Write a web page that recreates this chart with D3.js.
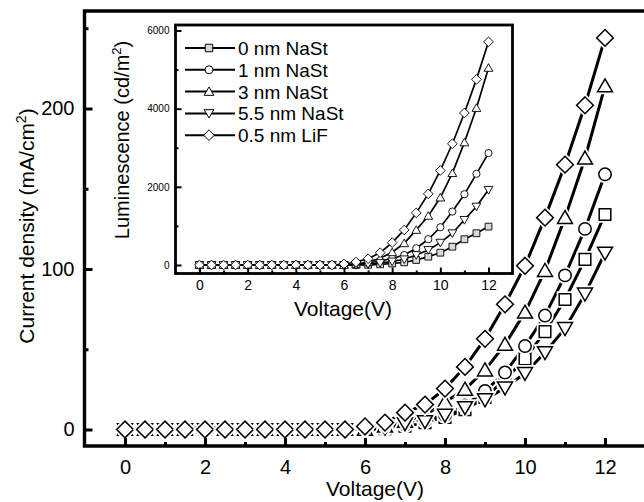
<!DOCTYPE html>
<html><head><meta charset="utf-8">
<script src="https://cdn.jsdelivr.net/npm/d3@7"></script>
<style>body{margin:0;background:#fff}svg{display:block}text{font-family:"Liberation Sans",Arial,sans-serif;fill:#000}</style>
</head><body><svg id="c" width="644" height="502"></svg>
<script>
// ---- data ----
const voltage = [0,0.5,1,1.5,2,2.5,3,3.5,4,4.5,5,5.5,6,6.5,7,7.5,8,8.5,9,9.5,10,10.5,11,11.5,12];
const seriesNames = ["0 nm NaSt","1 nm NaSt","3 nm NaSt","5.5 nm NaSt","0.5 nm LiF"];
const seriesSymbols = ["square","circle","triangle","triangleDown","diamond"];
// main: current density (mA/cm2)
const current0nm  = [0,0,0,0,0,0,0,0,0,0,0,0,0,0.5,2,4.3,7.5,12.4,20,31,44,61,81,106,134];
const current1nm  = [0,0,0,0,0,0,0,0,0,0,0,0,0,1,3,5.6,9,15,24,35.5,52,71,96,125,159];
const current3nm  = [0,0,0,0,1.5,0,0,0,0,0,0,0,0,2,5,9,17,25,37,53,73,99,132,169,214];
const current55nm = [0,0,0,0,0,0,0,0,0,0,0,0,0,1,3.7,5,9,13.7,18.6,26,35,48,63,84.5,110];
const currentLiF  = [0,0,0,0,0,0,0,0,0,0,0,0,1.9,4.3,10.5,15.5,25.5,39,56.5,78,102,132,165,202,244];
// inset: luminescence (cd/m2)
const lum0nm  = [0,0,0,0,0,0,0,0,0,0,0,0,0,0,5,18,38,69,128,213,315,469,659,813,982];
const lum1nm  = [0,0,0,0,0,0,0,0,0,0,0,0,0,13,51,103,167,256,428,659,966,1367,1812,2333,2863];
const lum3nm  = [0,0,0,0,0,0,0,0,0,0,0,0,0,26,77,171,325,556,897,1256,1726,2350,3136,4017,5043];
const lum55nm = [0,0,0,0,0,0,0,0,0,0,0,0,0,0,26,51,90,146,256,385,572,813,1154,1495,1923];
const lumLiF  = [0,0,0,0,0,0,0,0,0,0,0,0,26,77,162,315,572,897,1333,1820,2418,3102,3889,4750,5710];
const mainXTicks = [0,2,4,6,8,10,12];
const mainYTicks = [0,100,200];
const insetXTicks = [0,2,4,6,8,10,12];
const insetYTicks = [0,2000,4000,6000];

const currentSeries = [current0nm,current1nm,current3nm,current55nm,currentLiF];
const lumSeries = [lum0nm,lum1nm,lum3nm,lum55nm,lumLiF];

const svg = d3.select("#c");

function symbolPath(type, s){
  switch(type){
    case "square": return `M${-s},${-s}H${s}V${s}H${-s}Z`;
    case "circle": return `M${s},0A${s},${s} 0 1,1 ${-s},0A${s},${s} 0 1,1 ${s},0Z`;
    case "triangle": return `M0,${-s*1.05}L${s*1.1},${s*0.85}L${-s*1.1},${s*0.85}Z`;
    case "triangleDown": return `M0,${s*1.05}L${s*1.1},${-s*0.85}L${-s*1.1},${-s*0.85}Z`;
    case "diamond": return `M0,${-s*1.35}L${s*1.35},0L0,${s*1.35}L${-s*1.35},0Z`;
  }
}

// ---- main chart ----
const x = d3.scaleLinear().domain([0,12]).range([125,605]);
const y = d3.scaleLinear().domain([0,200]).range([429.5,108.5]);
const frame = {l:84.5, t:11, r:648, b:446};

const mainG = svg.append("g");
const line = d3.line().x((d,i)=>x(voltage[i])).y(d=>y(d));
currentSeries.forEach((s,k)=>{
  mainG.append("path").attr("d", line(s)).attr("fill","none").attr("stroke","#000").attr("stroke-width",3);
});
const mainSizes = {square:5.8,circle:6.2,triangle:6.8,triangleDown:6.8,diamond:6.2};
currentSeries.forEach((s,k)=>{
  const sym = seriesSymbols[k];
  const sel = mainG.selectAll(null).data(s).enter().append("g")
    .attr("transform",(d,i)=>`translate(${x(voltage[i])},${y(d)})`);
  sel.append("path").attr("d", symbolPath(sym, mainSizes[sym]))
    .attr("fill","#fff").attr("stroke","#fff").attr("stroke-width",5);
  sel.append("path").attr("d", symbolPath(sym, mainSizes[sym]))
    .attr("fill","#fff").attr("stroke","#000").attr("stroke-width",1.5);
});

// frame
svg.append("path").attr("d",`M${frame.r},${frame.t}H${frame.l}V${frame.b}H${frame.r}`)
  .attr("fill","none").attr("stroke","#000").attr("stroke-width",3.4);

// main axes ticks (inward)
const xAxis = d3.axisBottom(x).tickValues(mainXTicks).tickSize(-8).tickPadding(14).tickFormat(d3.format("d"));
const gx = svg.append("g").attr("transform",`translate(0,${frame.b})`).call(xAxis);
gx.select(".domain").remove();
gx.selectAll(".tick line").attr("stroke","#000").attr("stroke-width",3);
gx.selectAll(".tick text").style("font-size","20px").attr("font-family",null);
const xMinor = d3.axisBottom(x).tickValues([1,3,5,7,9,11]).tickSize(-4).tickFormat("");
const gxm = svg.append("g").attr("transform",`translate(0,${frame.b})`).call(xMinor);
gxm.select(".domain").remove();
gxm.selectAll(".tick line").attr("stroke","#000").attr("stroke-width",3);

const yAxis = d3.axisLeft(y).tickValues(mainYTicks).tickSize(-8).tickPadding(10).tickFormat(d3.format("d"));
const gy = svg.append("g").attr("transform",`translate(${frame.l},0)`).call(yAxis);
gy.select(".domain").remove();
gy.selectAll(".tick line").attr("stroke","#000").attr("stroke-width",3);
gy.selectAll(".tick text").style("font-size","20px").attr("font-family",null);
const yMinor = d3.axisLeft(y).tickValues([50,150,250]).tickSize(-4).tickFormat("");
const gym = svg.append("g").attr("transform",`translate(${frame.l},0)`).call(yMinor);
gym.select(".domain").remove();
gym.selectAll(".tick line").attr("stroke","#000").attr("stroke-width",3);

svg.append("text").attr("x",375).attr("y",496).attr("text-anchor","middle").style("font-size","21px").text("Voltage(V)");
const yt = svg.append("text").attr("transform","translate(34,226) rotate(-90)").attr("text-anchor","middle").style("font-size","21px");
yt.append("tspan").text("Current density (mA/cm");
yt.append("tspan").attr("dy",-8).style("font-size","14px").text("2");
yt.append("tspan").attr("dy",8).text(")");

// ---- inset ----
const ins = {l:175.5, t:25, r:512.5, b:273.5};
svg.append("rect").attr("x",ins.l).attr("y",ins.t).attr("width",ins.r-ins.l).attr("height",ins.b-ins.t).attr("fill","#fff");
const ix = d3.scaleLinear().domain([0,12]).range([199.5,488.5]);
const iy = d3.scaleLinear().domain([0,6000]).range([265,30.5]);
const ig = svg.append("g");
const iline = d3.line().x((d,i)=>ix(voltage[i])).y(d=>iy(d));
lumSeries.forEach(s=>{
  ig.append("path").attr("d", iline(s)).attr("fill","none").attr("stroke","#000").attr("stroke-width",1.7);
});
const insSizes = {square:3.4,circle:3.6,triangle:4,triangleDown:4,diamond:3.6};
lumSeries.forEach((s,k)=>{
  const sym = seriesSymbols[k];
  ig.selectAll(null).data(s).enter().append("path")
    .attr("transform",(d,i)=>`translate(${ix(voltage[i])},${iy(d)})`)
    .attr("d", symbolPath(sym, insSizes[sym]))
    .attr("fill", sym==="square" ? "#d8d8d8" : "#fff").attr("stroke","#000").attr("stroke-width",0.9);
});
svg.append("rect").attr("x",ins.l).attr("y",ins.t).attr("width",ins.r-ins.l).attr("height",ins.b-ins.t)
  .attr("fill","none").attr("stroke","#000").attr("stroke-width",2.8);

const ixAxis = d3.axisBottom(ix).tickValues(insetXTicks).tickSize(-6).tickPadding(7).tickFormat(d3.format("d"));
const gix = svg.append("g").attr("transform",`translate(0,${ins.b})`).call(ixAxis);
gix.select(".domain").remove();
gix.selectAll(".tick line").attr("stroke","#000").attr("stroke-width",2);
gix.selectAll(".tick text").style("font-size","14px").attr("font-family",null);
const ixMinor = d3.axisBottom(ix).tickValues([1,3,5,7,9,11]).tickSize(-3).tickFormat("");
const gixm = svg.append("g").attr("transform",`translate(0,${ins.b})`).call(ixMinor);
gixm.select(".domain").remove();
gixm.selectAll(".tick line").attr("stroke","#000").attr("stroke-width",2);

const iyAxis = d3.axisLeft(iy).tickValues(insetYTicks).tickSize(-6).tickPadding(6).tickFormat(d3.format("d"));
const giy = svg.append("g").attr("transform",`translate(${ins.l},0)`).call(iyAxis);
giy.select(".domain").remove();
giy.selectAll(".tick line").attr("stroke","#000").attr("stroke-width",2);
giy.selectAll(".tick text").style("font-size","10px").attr("font-family",null);
const iyMinor = d3.axisLeft(iy).tickValues([1000,3000,5000]).tickSize(-3).tickFormat("");
const giym = svg.append("g").attr("transform",`translate(${ins.l},0)`).call(iyMinor);
giym.select(".domain").remove();
giym.selectAll(".tick line").attr("stroke","#000").attr("stroke-width",2);

svg.append("text").attr("x",343).attr("y",316).attr("text-anchor","middle").style("font-size","21px").text("Voltage(V)");
const iyt = svg.append("text").attr("transform","translate(129,140) rotate(-90)").attr("text-anchor","middle").style("font-size","20px");
iyt.append("tspan").text("Luminescence (cd/m");
iyt.append("tspan").attr("dy",-8).style("font-size","13px").text("2");
iyt.append("tspan").attr("dy",8).text(")");

// legend
const lg = svg.append("g");
seriesNames.forEach((name,k)=>{
  const ly = 48 + k*21.8;
  lg.append("line").attr("x1",185).attr("x2",235).attr("y1",ly).attr("y2",ly).attr("stroke","#000").attr("stroke-width",2);
  const sym = seriesSymbols[k];
  lg.append("path").attr("transform",`translate(209,${ly})`).attr("d",symbolPath(sym, insSizes[sym]*1.1))
    .attr("fill", sym==="square" ? "#d8d8d8" : "#fff").attr("stroke","#000").attr("stroke-width",1);
  lg.append("text").attr("x",238).attr("y",ly+7).style("font-size","19px").text(name);
});
</script></body></html>
